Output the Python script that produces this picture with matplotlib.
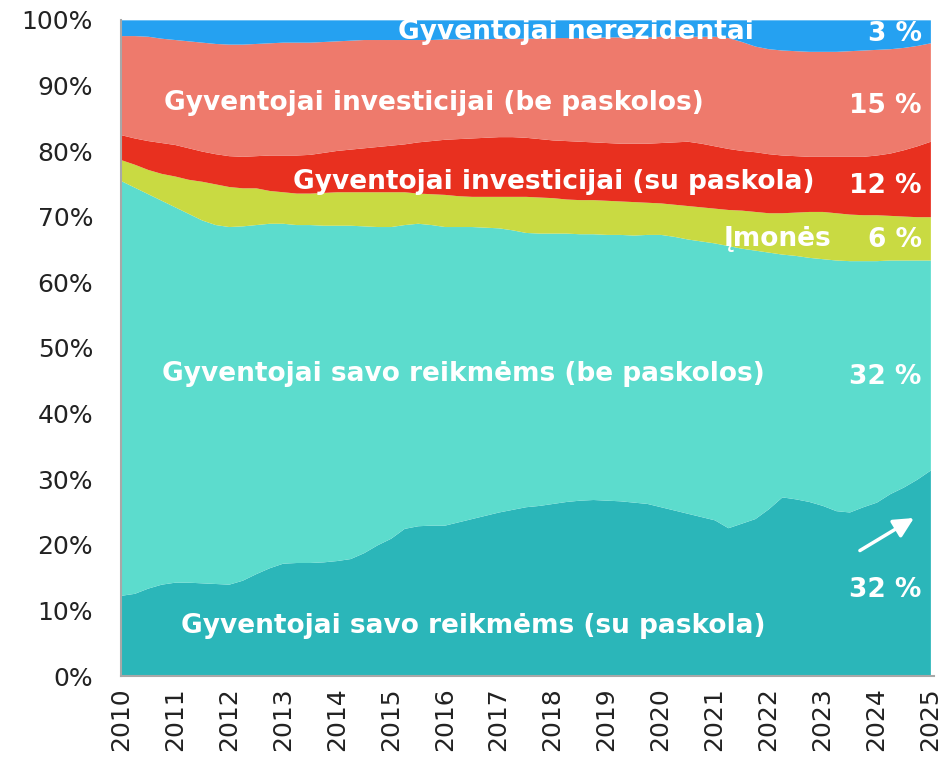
import numpy as np
import matplotlib
matplotlib.use("Agg")
import matplotlib.pyplot as plt

# quarterly points, 2010 Q1 .. 2025 Q1
years = 2010 + np.arange(61) / 4

# cumulative top edge (in %) of each stacked band
top_savo_su_paskola = [
    12.3, 12.6, 13.4, 14.0, 14.3, 14.3, 14.2, 14.1, 14.0, 14.6, 15.6, 16.5,
    17.2, 17.3, 17.3, 17.4, 17.6, 17.9, 18.8, 20.0, 21.0, 22.5, 22.9, 23.0,
    23.0, 23.5, 24.0, 24.5, 25.0, 25.4, 25.8, 26.0, 26.3, 26.6, 26.8, 26.9,
    26.8, 26.7, 26.5, 26.3, 25.8, 25.3, 24.8, 24.3, 23.8, 22.6, 23.3, 24.0,
    25.5, 27.3, 27.0, 26.6, 26.0, 25.2, 25.0, 25.8, 26.5, 27.8, 28.8, 30.0,
    31.4]
top_savo_be_paskolos = [
    75.5, 74.5, 73.5, 72.5, 71.5, 70.5, 69.5, 68.8, 68.5, 68.6, 68.8, 69.0,
    69.0, 68.8, 68.8, 68.7, 68.7, 68.7, 68.6, 68.5, 68.5, 68.8, 69.0, 68.8,
    68.5, 68.5, 68.5, 68.4, 68.3, 68.0, 67.6, 67.5, 67.5, 67.5, 67.4, 67.4,
    67.3, 67.3, 67.2, 67.3, 67.3, 67.0, 66.6, 66.3, 66.0, 65.6, 65.2, 64.9,
    64.6, 64.3, 64.1, 63.8, 63.6, 63.4, 63.3, 63.3, 63.3, 63.4, 63.4, 63.4,
    63.4]
top_imones = [
    78.7, 78.0, 77.2, 76.6, 76.2, 75.7, 75.4, 75.0, 74.6, 74.4, 74.4, 74.0,
    73.8, 73.6, 73.6, 73.7, 73.8, 73.8, 73.8, 73.8, 73.8, 73.8, 73.6, 73.5,
    73.4, 73.2, 73.1, 73.1, 73.1, 73.1, 73.1, 73.0, 72.9, 72.7, 72.6, 72.6,
    72.5, 72.4, 72.3, 72.2, 72.1, 71.9, 71.7, 71.5, 71.3, 71.1, 71.0, 70.8,
    70.6, 70.6, 70.7, 70.8, 70.8, 70.6, 70.4, 70.3, 70.3, 70.2, 70.1, 70.0,
    70.0]
top_invest_su_paskola = [
    82.5, 82.0, 81.6, 81.3, 81.0, 80.5, 80.0, 79.6, 79.3, 79.2, 79.3, 79.4,
    79.4, 79.4, 79.5, 79.8, 80.1, 80.3, 80.5, 80.7, 80.9, 81.1, 81.4, 81.6,
    81.8, 81.9, 82.0, 82.1, 82.2, 82.2, 82.1, 81.9, 81.7, 81.6, 81.5, 81.4,
    81.3, 81.2, 81.2, 81.2, 81.3, 81.4, 81.5, 81.2, 80.8, 80.4, 80.1, 79.9,
    79.6, 79.4, 79.3, 79.2, 79.2, 79.2, 79.2, 79.2, 79.4, 79.7, 80.2, 80.8,
    81.5]
top_invest_be_paskolos = [
    97.6, 97.6, 97.5, 97.2, 97.0, 96.8, 96.6, 96.4, 96.3, 96.3, 96.4, 96.5,
    96.6, 96.6, 96.6, 96.7, 96.8, 96.9, 97.0, 97.0, 97.0, 97.0, 97.0, 97.0,
    97.1, 97.1, 97.1, 97.1, 97.2, 97.2, 97.2, 97.2, 97.3, 97.3, 97.3, 97.3,
    97.4, 97.4, 97.4, 97.4, 97.5, 97.5, 97.5, 97.5, 97.5, 97.3, 96.7, 96.0,
    95.6, 95.4, 95.3, 95.2, 95.2, 95.2, 95.3, 95.4, 95.5, 95.6, 95.8, 96.1,
    96.5]
top_nerezidentai = [100.0] * 61

colors = ["#2bb6b9", "#5cdccd", "#c9da42", "#e8301f", "#ee7a6c", "#25a1f1"]

fig = plt.figure(figsize=(9.44, 7.63), dpi=100)
ax = fig.add_axes([0.128, 0.114, 0.861, 0.86])

levels = [np.zeros(61), top_savo_su_paskola, top_savo_be_paskolos, top_imones,
          top_invest_su_paskola, top_invest_be_paskolos, top_nerezidentai]
for i in range(6):
    ax.fill_between(years, levels[i], levels[i + 1], color=colors[i], lw=0)

ax.set_xlim(2010, 2025.06)
ax.set_ylim(0, 100)
ax.set_xticks(range(2010, 2026))
ax.set_xticklabels([str(y) for y in range(2010, 2026)], rotation=90,
                   fontsize=18, color="#222222")
ax.set_yticks(range(0, 101, 10))
ax.set_yticklabels([f"{v}%" for v in range(0, 101, 10)], fontsize=18,
                   color="#222222")
ax.tick_params(axis="x", length=0, pad=8)
ax.tick_params(axis="y", length=0, pad=20)
for s in ["top", "right"]:
    ax.spines[s].set_visible(False)
for s in ["left", "bottom"]:
    ax.spines[s].set_color("#a8a8a8")
    ax.spines[s].set_linewidth(1.5)

lab = dict(color="white", fontsize=19, fontweight="bold",
           family="DejaVu Sans", va="center")
ax.text(2018.44, 98.2, "Gyventojai nerezidentai", ha="center", **lab)
ax.text(2015.8, 87.3, "Gyventojai investicijai (be paskolos)", ha="center", **lab)
ax.text(2018.03, 75.3, "Gyventojai investicijai (su paskola)", ha="center", **lab)
ax.text(2022.17, 66.6, "Įmonės", ha="center", **lab)
ax.text(2016.35, 46.0, "Gyventojai savo reikmėms (be paskolos)", ha="center", **lab)
ax.text(2016.53, 7.6, "Gyventojai savo reikmėms (su paskola)", ha="center", **lab)

for y, t in [(97.9, "3 %"), (86.9, "15 %"), (74.7, "12 %"), (66.5, "6 %"),
             (45.6, "32 %"), (13.1, "32 %")]:
    ax.text(2024.84, y, t, ha="right", **lab)

ax.annotate("", xy=(2024.74, 24.3), xytext=(2023.65, 18.9),
            arrowprops=dict(arrowstyle="-|>", color="white", lw=2.5,
                            mutation_scale=30))

fig.savefig("out.png", dpi=100)
